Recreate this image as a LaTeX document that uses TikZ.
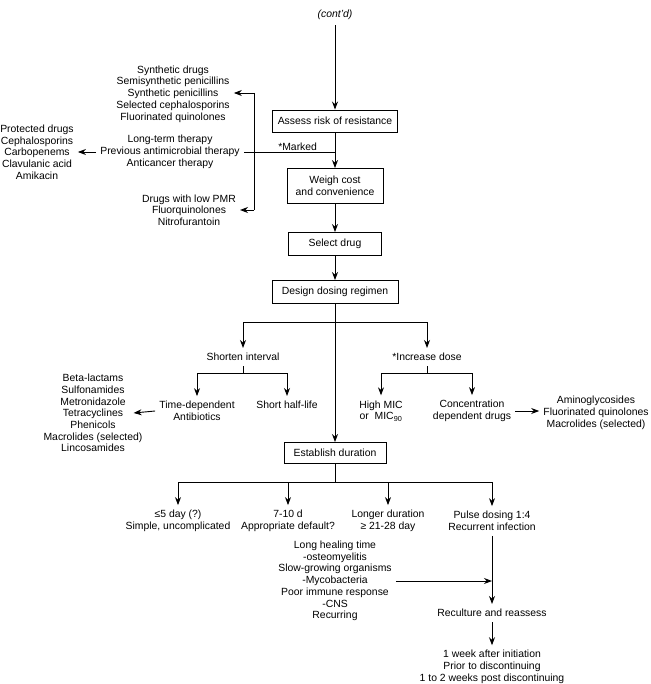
\documentclass[tikz,border=0pt]{standalone}
\usepackage{fontspec}
\setmainfont{Liberation Sans}
\usetikzlibrary{arrows.meta,positioning}
\newcommand{\dsize}{\fontsize{10.4}{11.7}\selectfont}

\begin{document}
\begin{tikzpicture}[x=1pt, y=-1pt, font=\dsize,
    box/.style={draw, rectangle, line width=0.9pt, inner sep=0pt, align=center},
    txt/.style={align=center, inner xsep=4pt, inner ysep=5pt},
    arr/.style={-{Stealth[length=8pt, width=6pt]}, line width=0.9pt},
    ln/.style={line width=0.9pt}]
    \useasboundingbox (0,0) rectangle (650,684);

    % main column
    \node[txt, font=\dsize\itshape] (contd) at (335,15) {(cont'd)};
    \node[box, minimum width=125pt, minimum height=22pt] (assess) at (335,121) {Assess risk of resistance};
    \node[box, minimum width=96pt, minimum height=35pt] (weigh) at (335,186) {Weigh cost\\and convenience};
    \node[box, minimum width=93pt, minimum height=23pt] (select) at (335,244) {Select drug};
    \node[box, minimum width=126pt, minimum height=23pt] (design) at (335,292) {Design dosing regimen};
    \node[box, minimum width=102pt, minimum height=21pt] (establish) at (335,453) {Establish duration};

    % resistance factors
    \node[txt] (synth) at (173,94) {Synthetic drugs\\Semisynthetic penicillins\\Synthetic penicillins\\Selected cephalosporins\\Fluorinated quinolones};
    \node[txt] (prior) at (170,152) {Long-term therapy\\Previous antimicrobial therapy\\Anticancer therapy};
    \node[txt] (lowpmr) at (189,210) {Drugs with low PMR\\Fluorquinolones\\Nitrofurantoin};
    \node[txt] (protected) at (37,152) {Protected drugs\\Cephalosporins\\Carbopenems\\Clavulanic acid\\Amikacin};

    % dosing regimen
    \node[txt] (shorten) at (243,357) {Shorten interval};
    \node[txt] (increase) at (427,357) {*Increase dose};
    \node[txt] (timedep) at (197,411) {Time-dependent\\Antibiotics};
    \node[txt] (halflife) at (287,405) {Short half-life};
    \node[txt] (betalist) at (93,413) {Beta-lactams\\Sulfonamides\\Metronidazole\\Tetracyclines\\Phenicols\\Macrolides (selected)\\Lincosamides};
    \node[txt] (highmic) at (381,411) {High MIC\\or\ \ MIC\textsubscript{90}};
    \node[txt] (conc) at (472,411) {Concentration\\dependent drugs};
    \node[txt] (aminolist) at (596,413) {Aminoglycosides\\Fluorinated quinolones\\Macrolides (selected)};

    % duration
    \node[txt] (short5) at (178,521) {≤5 day (?)\\Simple, uncomplicated};
    \node[txt] (default) at (288,521) {7-10 d\\Appropriate default?};
    \node[txt] (longer) at (388,521) {Longer duration\\≥ 21-28 day};
    \node[txt] (pulse) at (492,521) {Pulse dosing 1:4\\Recurrent infection};
    \node[txt] (healing) at (335,581) {Long healing time\\-osteomyelitis\\Slow-growing organisms\\-Mycobacteria\\Poor immune response\\-CNS\\Recurring};
    \node[txt] (reculture) at (492,613) {Reculture and reassess};
    \node[txt] (timing) at (492,667) {1 week after initiation\\Prior to discontinuing\\1 to 2 weeks post discontinuing};

    \coordinate (mark) at (335,152);
    \coordinate (bt) at (254,93);
    \coordinate (bb) at (254,210);
    \coordinate (dsplit) at (335,322);
    \coordinate (ssplit) at (243,373);
    \coordinate (isplit) at (427,373);
    \coordinate (esplit) at (335,482);

    \draw[arr] (contd) -- (assess);
    \draw[arr] (assess) -- (weigh);
    \draw[ln] (mark) -- (prior.east) node[pos=0.41, above, inner sep=1pt] (marked) {*Marked};
    \draw[ln] (bt) -- (bb);
    \draw[arr] (bt) -- (bt -| synth.east);
    \draw[arr] (bb) -- (bb -| lowpmr.east);
    \draw[arr] (prior.west) -- (protected.east);
    \draw[arr] (weigh) -- (select);
    \draw[arr] (select) -- (design);
    \draw[arr] (design) -- (establish);

    \draw[arr] (dsplit) -| (shorten.north);
    \draw[arr] (dsplit) -| (increase.north);
    \draw[ln] (shorten) -- (ssplit);
    \draw[arr] (ssplit) -| (timedep.north);
    \draw[arr] (ssplit) -| (halflife.north);
    \draw[arr] (timedep.west) -- ([xshift=-13pt]betalist.east);
    \draw[ln] (increase) -- (isplit);
    \draw[arr] (isplit) -| (highmic.north);
    \draw[arr] (isplit) -| (conc.north);
    \draw[arr] (conc.east) -- (conc.east -| aminolist.west);

    \draw[ln] (establish) -- (esplit);
    \draw[arr] (esplit) -| (short5.north);
    \draw[arr] (esplit) -| (default.north);
    \draw[arr] (esplit) -| (longer.north);
    \draw[arr] (esplit) -| (pulse.north);
    \draw[arr] (pulse) -- (reculture);
    \draw[arr] (healing.east) -- (healing.east -| pulse.south);
    \draw[arr] (reculture) -- (timing);
\end{tikzpicture}
\end{document}
